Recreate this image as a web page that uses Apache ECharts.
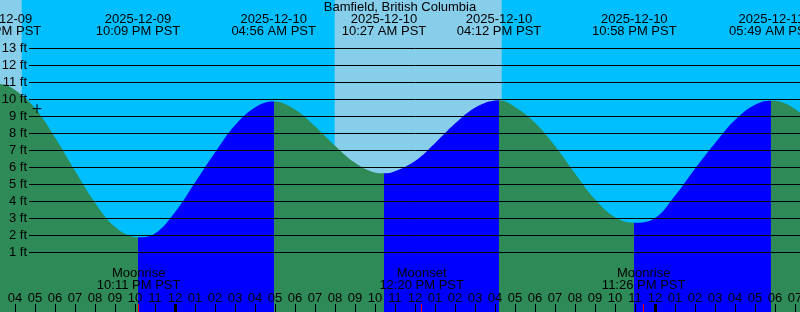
<!DOCTYPE html>
<html><head><meta charset="utf-8">
<script src="https://cdn.jsdelivr.net/npm/echarts@6/dist/echarts.min.js"></script>
<style>html,body{margin:0;padding:0;background:#00BFFF}#c{width:800px;height:312px}</style>
</head><body><div id="c"></div>
<script>
// ---- data (hours counted from 2025-12-09 00:00 PST) ----
const titleText = 'Bamfield, British Columbia';
const tideHours = [15, 15.2, 16, 17, 18, 19, 20, 21, 22, 22.15, 23, 24, 25, 26, 27, 28, 28.933, 30, 31, 32, 33, 34, 34.45, 35, 36, 37, 38, 39, 40, 40.2, 41, 42, 43, 44, 45, 46, 46.967, 48, 49, 50, 51, 52, 53, 53.817, 54, 55, 56];
const tideFeet = [10.89, 10.9, 10.55, 9.48, 7.76, 5.80, 3.92, 2.50, 1.89, 1.88, 2.10, 3.35, 5.10, 6.87, 8.47, 9.52, 9.87, 9.40, 8.41, 7.27, 6.27, 5.70, 5.65, 5.77, 6.37, 7.42, 8.57, 9.50, 9.93, 9.94, 9.55, 8.62, 7.25, 5.64, 4.12, 3.06, 2.74, 3.02, 4.33, 5.92, 7.42, 8.78, 9.68, 9.92, 9.91, 9.43, 8.38];
const tideTimes = [15.2, 22.15, 28.933, 34.45, 40.2, 46.967, 53.817];
const tideKinds = ['H', 'L', 'H', 'L', 'H', 'L', 'H'];
const tideLabels = ['2025-12-09\n03:12 PM PST', '2025-12-09\n10:09 PM PST', '2025-12-10\n04:56 AM PST', '2025-12-10\n10:27 AM PST', '2025-12-10\n04:12 PM PST', '2025-12-10\n10:58 PM PST', '2025-12-11\n05:49 AM PST'];
const moonTimes = [22.183, 36.333, 47.433];
const moonLabels = ['Moonrise\n10:11 PM PST', 'Moonset\n12:20 PM PST', 'Moonrise\n11:26 PM PST'];
const sunriseTimes = [8.05, 31.985];
const sunsetTimes = [16.335, 40.335];
const midnightTimes = [24, 48];
const footMin = 1, footMax = 13;
const nowMarker = [17.1, 9.45];
const hourStart = 15, hourEnd = 56;
const depthMin = -2.512, depthMax = 15.841;

// ---- styles ----
const GREEN = '#2E8B57', BLUE = '#0000FF', SKY = '#00BFFF', DAY = '#87CEEB';
const FONT = 'Liberation Sans';

function lookup(times, labels, v) {
  for (let i = 0; i < times.length; i++) if (Math.abs(times[i] - v) < 1e-3) return labels[i];
  return '';
}
function hour12(v) {
  let h = ((Math.round(v) % 12) + 12) % 12;
  if (h === 0) h = 12;
  return (h < 10 ? '0' : '') + h;
}

const pieces = [{ max: tideTimes[0], color: BLUE }];
tideTimes.forEach((t, i) => {
  const p = { min: t, color: tideKinds[i] === 'H' ? GREEN : BLUE };
  if (i + 1 < tideTimes.length) p.max = tideTimes[i + 1];
  pieces.push(p);
});

const plainX = (extra) => Object.assign({
  type: 'value', min: hourStart, max: hourEnd, z: 10,
  axisLine: { show: false }, axisTick: { show: false },
  splitLine: { show: false }, axisLabel: { show: false }
}, extra);

const G = (o) => Object.assign({ outerBoundsMode: 'none', containLabel: false }, o);

const chart = echarts.init(document.getElementById('c'), null, { renderer: 'canvas' });
chart.setOption({
  animation: false,
  backgroundColor: SKY,
  textStyle: { fontFamily: FONT },
  title: {
    text: titleText, left: 'center', top: 1, padding: 0,
    textStyle: { fontSize: 13, fontWeight: 'normal', color: '#000', fontFamily: FONT }
  },
  grid: [
    G({ left: -5, right: -15, top: 0, bottom: 0 }),
    G({ left: 29, right: 0, top: 48.3, bottom: 59.7 }),
    G({ left: -5, right: -15, top: 304, bottom: 0 }),
    G({ left: -5, right: -15, top: 304, bottom: 0 })
  ],
  xAxis: [
    plainX({ gridIndex: 0, position: 'bottom',
      axisLabel: { show: true, inside: true, margin: 21, customValues: moonTimes,
        formatter: v => lookup(moonTimes, moonLabels, v),
        fontSize: 13, lineHeight: 12, color: '#000', fontFamily: FONT } }),
    plainX({ gridIndex: 0, position: 'top',
      axisLabel: { show: true, inside: true, margin: 13, customValues: tideTimes,
        formatter: v => lookup(tideTimes, tideLabels, v),
        fontSize: 13, lineHeight: 12, color: '#000', fontFamily: FONT } }),
    { type: 'value', gridIndex: 1, min: 0, max: 1, show: false },
    plainX({ gridIndex: 2, position: 'bottom', interval: 1,
      axisTick: { show: true, inside: true, length: 8, lineStyle: { color: '#000', width: 1 } },
      axisLabel: { show: true, inside: true, margin: 7, showMinLabel: false, showMaxLabel: false,
        formatter: hour12, fontSize: 13, color: '#000', fontFamily: FONT } }),
    plainX({ gridIndex: 2, position: 'top',
      axisTick: { show: true, inside: true, length: 8, customValues: midnightTimes,
        lineStyle: { color: '#000', width: 3 } } }),
    plainX({ gridIndex: 3, position: 'bottom',
      axisTick: { show: true, inside: true, length: 8, customValues: moonTimes,
        lineStyle: { color: '#FF0000', width: 1 } } })
  ],
  yAxis: [
    { type: 'value', gridIndex: 0, min: depthMin, max: depthMax, show: false },
    { type: 'value', gridIndex: 1, min: footMin, max: footMax, interval: 1, z: 10,
      axisLine: { show: false }, axisTick: { show: false },
      splitLine: { show: true, lineStyle: { color: '#000', width: 1 } },
      axisLabel: { show: true, margin: 2, formatter: '{value} ft', fontSize: 13, color: '#000', fontFamily: FONT } },
    { type: 'value', gridIndex: 2, min: 0, max: 1, show: false },
    { type: 'value', gridIndex: 3, min: 0, max: 1, show: false }
  ],
  visualMap: { type: 'piecewise', show: false, dimension: 0, seriesIndex: 0, pieces: pieces },
  series: [
    {
      type: 'line', xAxisIndex: 0, yAxisIndex: 0,
      data: tideHours.map((t, i) => [t, tideFeet[i]]),
      smooth: 0.4, showSymbol: false, symbol: 'none', silent: true,
      lineStyle: { width: 0, opacity: 0 },
      areaStyle: { opacity: 1, origin: 'start' },
      markArea: {
        silent: true, itemStyle: { color: DAY, opacity: 1 },
        data: sunriseTimes.map((s, i) => [{ xAxis: s }, { xAxis: sunsetTimes[i] }])
      }
    },
    {
      type: 'scatter', xAxisIndex: 0, yAxisIndex: 0, z: 8, silent: true,
      data: [nowMarker],
      symbol: 'path://M5,0L5,10M0,5L10,5', symbolSize: 9,
      itemStyle: { color: 'none', borderColor: '#000', borderWidth: 1, opacity: 1 }
    }
  ]
});
</script></body></html>
